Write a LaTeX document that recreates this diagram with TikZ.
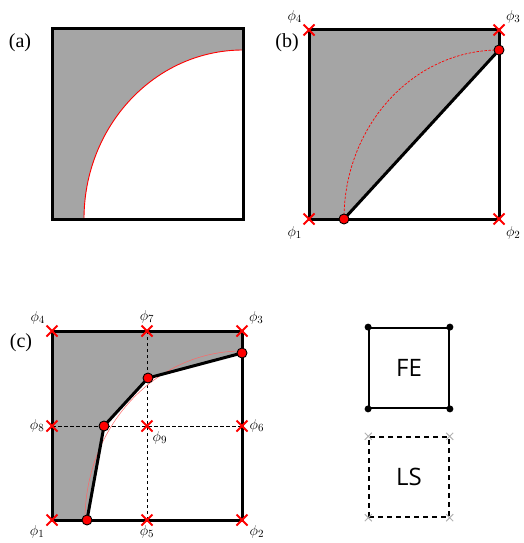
\documentclass[tikz,border=0pt]{standalone}
\usepackage{fontspec}
\setmainfont{Liberation Serif}
\newfontfamily\boxfont{Open Sans}
\usepackage{tikz}
\usetikzlibrary{positioning,shapes.misc}
\definecolor{domaingray}{HTML}{A5A5A5}
\tikzset{
  cellframe/.style={draw=black,line width=3pt,line join=miter},
  interface/.style={draw=black,line width=3pt,line join=round},
  shaded/.style={fill=domaingray},
  exactarc/.style={draw=red,line width=0.9pt},
  lsnode/.style={cross out,draw=red,line width=2pt,minimum size=9pt,inner sep=0pt},
  lsghost/.style={cross out,draw=gray!60,line width=1pt,minimum size=6pt,inner sep=0pt},
  fenode/.style={circle,fill=black,minimum size=7pt,inner sep=0pt},
  cutnode/.style={circle,draw=black,fill=red,line width=0.9pt,minimum size=10pt,inner sep=0pt},
  philabel/.style={font=\fontsize{15}{17}\selectfont,inner sep=0pt},
  panellabel/.style={font=\fontsize{20}{24}\selectfont}
}

\begin{document}
\begin{tikzpicture}[x=1pt,y=-1pt,node distance=2pt]
\useasboundingbox (0,0) rectangle (523,543);
% (a)
\node[panellabel] (la) at (20,43) {(a)};
\fill[shaded] (52,29) -- (243,29) -- (243,50) arc[start angle=270,end angle=180,x radius=159,y radius=169] -- (52,219) -- cycle;
\draw[exactarc] (84,219) arc[start angle=180,end angle=270,x radius=159,y radius=169];
\draw[cellframe] (52,29) rectangle (243,219);
% (b)
\node[panellabel] (lb) at (287,43) {(b)};
\coordinate (b1) at (309,219);\coordinate (b2) at (499,219);
\coordinate (b3) at (499,30);\coordinate (b4) at (309,30);
\node[cutnode,draw=none,fill=none] (bp) at (344,219) {};
\node[cutnode,draw=none,fill=none] (bq) at (499,50) {};
\fill[shaded] (b4) -- (b3) -- (bq.center) -- (bp.center) -- (b1) -- cycle;
\draw[exactarc,line width=0.7pt,dashed,dash pattern=on 2.5pt off 1.5pt] (bp.center) arc[start angle=180,end angle=270,x radius=155,y radius=169];
\draw[interface] (bp.center) -- (bq.center);
\draw[cellframe] (b1) rectangle (b3);
\foreach \i in {1,...,4} \node[lsnode] (bx\i) at (b\i) {};
\node[cutnode] at (bp) {};
\node[cutnode] at (bq) {};
\node[philabel,below left=of bx1] {$\phi_1$};
\node[philabel,below right=of bx2] {$\phi_2$};
\node[philabel,above right=of bx3] {$\phi_3$};
\node[philabel,above left=of bx4] {$\phi_4$};
% (c)
\node[panellabel] (lc) at (21,343) {(c)};
\coordinate (c1) at (52,520);\coordinate (c2) at (242,520);
\coordinate (c3) at (242,331);\coordinate (c4) at (52,331);
\coordinate (c5) at (147,520);\coordinate (c6) at (242,426);
\coordinate (c7) at (147,331);\coordinate (c8) at (52,426);
\coordinate (c9) at (147,426);
\coordinate (p1) at (87,520);\coordinate (p2) at (104,426);
\coordinate (p3) at (148,378);\coordinate (p4) at (242,353);
\fill[shaded] (c4) -- (c3) -- (p4) -- (p3) -- (p2) -- (p1) -- (c1) -- cycle;
\draw[dashed,line width=0.7pt,dash pattern=on 3.5pt off 2.5pt] (c5) -- (c7) (c8) -- (c6);
\draw[exactarc,draw=red!60,line width=0.5pt] (85,520) arc[start angle=180,end angle=270,x radius=157,y radius=169];
\draw[interface] (p1) -- (p2) -- (p3) -- (p4);
\draw[cellframe] (c1) rectangle (c3);
\foreach \i in {1,...,9} \node[lsnode] (cx\i) at (c\i) {};
\foreach \i in {1,...,4} \node[cutnode] (cp\i) at (p\i) {};
\node[philabel,below left=0pt and 2pt of cx1] {$\phi_1$};
\node[philabel,below right=0pt and 2pt of cx2] {$\phi_2$};
\node[philabel,above right=of cx3] {$\phi_3$};
\node[philabel,above left=of cx4] {$\phi_4$};
\node[philabel,below=0pt of cx5] {$\phi_5$};
\node[philabel,right=of cx6] {$\phi_6$};
\node[philabel,above=of cx7] {$\phi_7$};
\node[philabel,left=of cx8] {$\phi_8$};
\node[philabel,below right=0pt and 0pt of cx9] {$\phi_9$};
% legend
\node[draw,line width=1.8pt,minimum size=80pt,inner sep=0pt,font=\boxfont\fontsize{24}{28}\selectfont] (fe) at (409,368) {FE};
\foreach \a in {north east,north west,south east,south west} \node[fenode] at (fe.\a) {};
\node[draw,dashed,line width=1.4pt,dash pattern=on 5pt off 4pt,minimum size=80pt,inner sep=0pt,font=\boxfont\fontsize{24}{28}\selectfont] (ls) at (409,477) {LS};
\foreach \a in {north east,north west,south east,south west} \node[lsghost] at (ls.\a) {};
\end{tikzpicture}
\end{document}
